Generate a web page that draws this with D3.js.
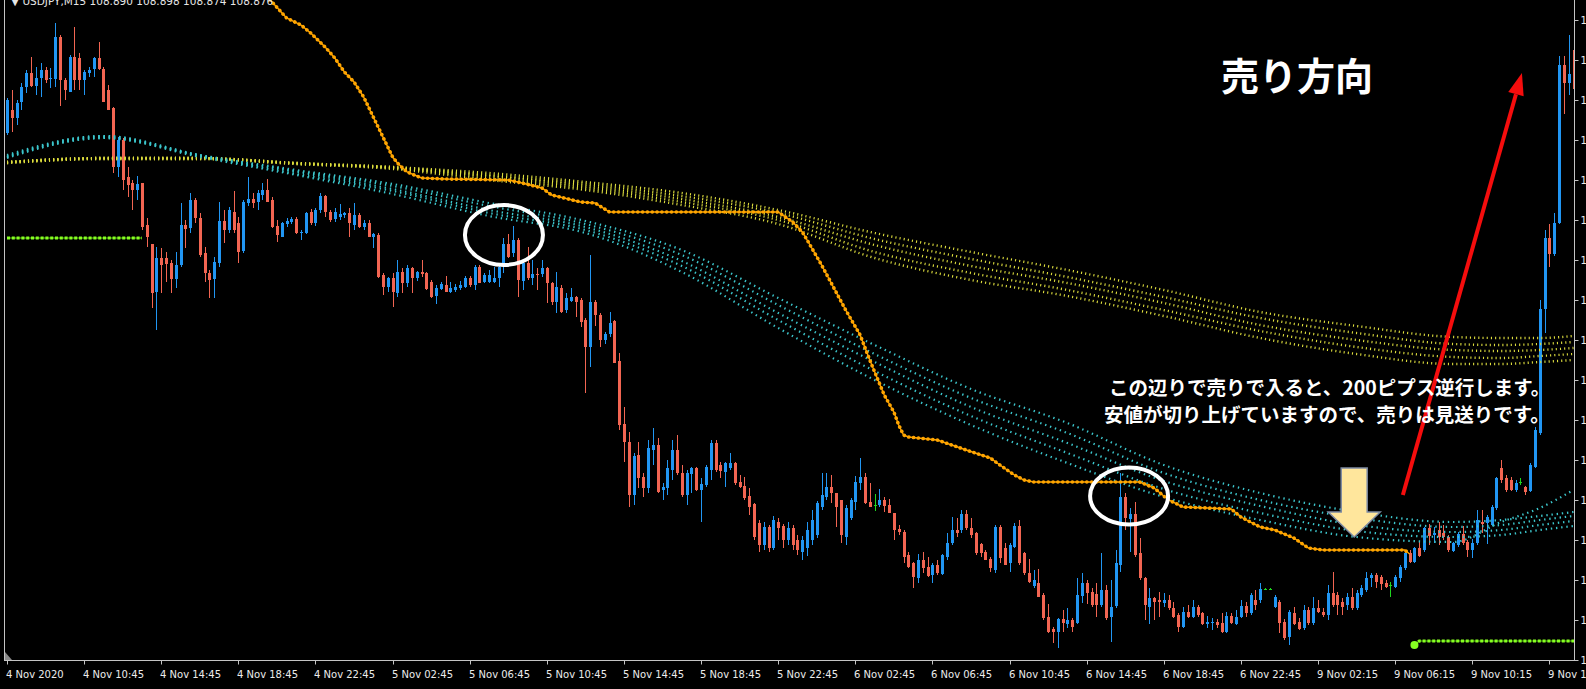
<!DOCTYPE html>
<html>
<head>
<meta charset="utf-8">
<script src="https://cdn.jsdelivr.net/npm/d3@7"></script>
<style>
  html, body { margin: 0; padding: 0; background: #000; overflow: hidden; }
</style>
</head>
<body>
<script>
// time labels, one every 16 bars (M15)
const timeLabels = ['4 Nov 2020', '4 Nov 10:45', '4 Nov 14:45', '4 Nov 18:45', '4 Nov 22:45',
  '5 Nov 02:45', '5 Nov 06:45', '5 Nov 10:45', '5 Nov 14:45', '5 Nov 18:45', '5 Nov 22:45',
  '6 Nov 02:45', '6 Nov 06:45', '6 Nov 10:45', '6 Nov 14:45', '6 Nov 18:45', '6 Nov 22:45',
  '9 Nov 02:15', '9 Nov 06:15', '9 Nov 10:15', '9 Nov 14:15']

const priceTicks = [103.0, 103.2, 103.4, 103.6, 103.8, 104.0, 104.2, 104.4, 104.6, 104.8,
  105.0, 105.2, 105.4, 105.6, 105.8, 106.0, 106.2]

// OHLC, one entry per 15 minute bar
const open = [105.635,105.75,105.71,105.79,105.865,105.935,105.87,105.91,105.95,105.905,
105.905,106.115,105.9,105.84,106.015,106.01,105.9,105.935,105.955,106.01,
105.955,105.85,105.76,105.465,105.6,105.415,105.385,105.35,105.385,105.175,
105.08,104.84,105.01,105.01,104.985,104.905,104.975,105.175,105.16,105.3,
105.21,105.035,104.935,104.905,104.985,105.195,105.15,105.24,105.185,105.045,
105.285,105.305,105.29,105.325,105.35,105.3,105.17,105.115,105.18,105.19,
105.205,105.135,105.135,105.24,105.185,105.25,105.32,105.24,105.205,105.215,
105.225,105.235,105.175,105.225,105.165,105.185,105.115,105.125,104.925,104.865,
104.91,104.835,104.94,104.885,104.96,104.91,104.94,104.935,104.89,104.82,
104.855,104.875,104.84,104.85,104.86,104.865,104.91,104.875,104.965,104.89,
104.89,104.89,104.91,104.975,105.08,105.035,105.1,104.895,104.985,104.91,
104.93,104.93,104.96,104.885,104.79,104.86,104.75,104.795,104.815,104.8,
104.7,104.565,104.79,104.725,104.6,104.63,104.695,104.495,104.18,104.09,
103.825,104.025,103.915,103.86,104.05,104.075,103.85,103.86,103.95,104.05,
103.935,103.825,103.93,103.96,103.85,103.875,103.95,104.085,103.975,103.94,
103.96,103.985,103.89,103.87,103.82,103.78,103.685,103.575,103.665,103.56,
103.69,103.67,103.6,103.66,103.6,103.54,103.56,103.6,103.625,103.765,
103.815,103.865,103.835,103.8,103.615,103.71,103.79,103.885,103.915,103.79,
103.775,103.775,103.8,103.775,103.735,103.655,103.64,103.525,103.485,103.41,
103.5,103.465,103.425,103.475,103.43,103.515,103.585,103.65,103.65,103.73,
103.66,103.635,103.58,103.54,103.505,103.45,103.665,103.56,103.485,103.565,
103.67,103.535,103.435,103.37,103.385,103.325,103.215,103.155,103.14,103.205,
103.18,103.2,103.185,103.32,103.385,103.34,103.33,103.275,103.35,103.215,
103.27,103.475,103.815,103.705,103.73,103.535,103.41,103.265,103.31,103.3,
103.285,103.3,103.26,103.225,103.165,103.24,103.215,103.265,103.235,103.18,
103.185,103.19,103.185,103.14,103.22,103.18,103.215,103.27,103.235,103.3,
103.3,103.355,103.355,103.265,103.29,103.19,103.115,103.235,103.19,103.16,
103.25,103.185,103.26,103.24,103.225,103.335,103.325,103.29,103.275,103.315,
103.26,103.325,103.35,103.41,103.425,103.415,103.385,103.375,103.365,103.41,
103.46,103.535,103.49,103.56,103.55,103.66,103.625,103.65,103.635,103.615,
103.545,103.575,103.63,103.59,103.55,103.585,103.69,103.685,103.675,103.76,
103.96,103.91,103.9,103.85,103.89,103.865,103.845,103.965,104.135,104.755,
105.11,105.03,105.185,105.975,105.885,106.05]

const high = [105.81,105.85,105.8,105.885,105.95,106.015,105.965,105.985,105.965,105.96,
106.185,106.125,105.91,106.025,106.165,106.035,105.95,105.965,106.015,106.09,
105.965,105.875,105.765,105.615,105.61,105.465,105.4,105.42,105.385,105.21,
105.08,105.065,105.06,105.04,105.0,105.04,105.285,105.2,105.335,105.31,
105.235,105.065,104.95,105.015,105.29,105.25,105.265,105.345,105.215,105.3,
105.415,105.335,105.35,105.385,105.405,105.315,105.2,105.19,105.21,105.215,
105.215,105.15,105.24,105.255,105.26,105.335,105.325,105.25,105.26,105.28,
105.24,105.26,105.285,105.235,105.2,105.2,105.135,105.135,104.935,104.915,
104.935,105.0,104.96,104.975,104.965,104.945,105.0,104.94,104.9,104.875,
104.89,104.92,104.89,104.88,104.895,104.92,104.92,104.975,104.975,104.935,
104.95,104.965,104.985,105.11,105.13,105.17,105.11,105.0,105.065,105.0,
104.96,105.0,104.965,104.89,104.94,104.875,104.835,104.86,104.82,104.81,
104.71,105.025,104.8,104.735,104.64,104.74,104.7,104.535,104.265,104.14,
104.035,104.09,103.935,104.1,104.16,104.11,103.885,104.0,104.1,104.125,
103.975,103.95,103.965,103.965,103.91,103.975,104.1,104.1,103.99,103.99,
104.035,103.99,103.925,103.915,103.86,103.785,103.7,103.69,103.675,103.72,
103.71,103.68,103.69,103.675,103.625,103.62,103.69,103.75,103.795,103.935,
103.935,103.925,103.835,103.8,103.775,103.81,103.92,104.01,103.935,103.885,
103.83,103.855,103.815,103.805,103.735,103.675,103.65,103.54,103.49,103.53,
103.54,103.515,103.485,103.5,103.53,103.635,103.715,103.71,103.75,103.75,
103.71,103.64,103.585,103.55,103.515,103.675,103.675,103.585,103.585,103.685,
103.7,103.54,103.505,103.45,103.455,103.335,103.28,103.165,103.21,103.25,
103.26,103.21,103.41,103.435,103.4,103.36,103.385,103.535,103.375,103.4,
103.55,103.935,103.835,103.76,103.79,103.61,103.415,103.36,103.315,103.34,
103.335,103.325,103.29,103.235,103.265,103.275,103.3,103.275,103.24,103.22,
103.21,103.205,103.235,103.24,103.235,103.25,103.3,103.29,103.335,103.35,
103.385,103.36,103.36,103.325,103.3,103.205,103.25,103.265,103.21,103.275,
103.265,103.315,103.3,103.26,103.375,103.44,103.34,103.31,103.335,103.36,
103.35,103.375,103.44,103.435,103.435,103.425,103.4,103.39,103.425,103.475,
103.54,103.55,103.565,103.59,103.665,103.68,103.665,103.69,103.675,103.625,
103.59,103.64,103.67,103.6,103.605,103.75,103.75,103.725,103.775,103.915,
104.0,103.925,103.915,103.9,103.91,103.87,103.985,104.165,104.8,105.15,
105.18,105.235,106.02,106.02,106.125,106.075]

const low = [105.625,105.64,105.675,105.75,105.835,105.865,105.825,105.815,105.885,105.86,
105.865,105.77,105.8,105.84,105.85,105.85,105.825,105.915,105.915,105.95,
105.79,105.75,105.435,105.415,105.35,105.315,105.25,105.3,105.15,105.065,
104.76,104.65,104.835,104.89,104.835,104.86,104.965,105.06,105.135,105.185,
105.015,104.89,104.81,104.81,104.965,105.085,105.135,105.135,104.985,105.035,
105.27,105.26,105.25,105.3,105.29,105.16,105.09,105.115,105.165,105.18,
105.13,105.1,105.13,105.175,105.17,105.235,105.215,105.19,105.19,105.2,
105.21,105.115,105.15,105.16,105.15,105.115,105.06,104.91,104.825,104.84,
104.765,104.815,104.835,104.865,104.835,104.895,104.915,104.85,104.81,104.78,
104.85,104.84,104.835,104.84,104.85,104.86,104.865,104.85,104.885,104.885,
104.885,104.885,104.865,104.935,105.01,105.015,104.815,104.85,104.9,104.875,
104.85,104.915,104.785,104.775,104.735,104.735,104.735,104.79,104.715,104.665,
104.335,104.465,104.67,104.565,104.58,104.615,104.485,104.15,103.99,103.765,
103.775,103.86,103.815,103.835,103.975,103.835,103.8,103.825,103.9,103.925,
103.815,103.775,103.835,103.845,103.69,103.865,103.9,103.94,103.91,103.865,
103.95,103.875,103.86,103.8,103.725,103.6,103.54,103.55,103.54,103.55,
103.6,103.56,103.575,103.55,103.525,103.5,103.52,103.575,103.61,103.75,
103.8,103.785,103.665,103.585,103.575,103.7,103.75,103.85,103.78,103.765,
103.745,103.765,103.74,103.735,103.6,103.625,103.485,103.46,103.36,103.385,
103.435,103.415,103.385,103.425,103.425,103.5,103.575,103.615,103.635,103.65,
103.61,103.525,103.515,103.5,103.44,103.435,103.485,103.475,103.44,103.56,
103.475,103.425,103.385,103.36,103.315,103.2,103.135,103.085,103.06,103.14,
103.16,103.14,103.18,103.285,103.28,103.265,103.215,103.265,103.2,103.09,
103.26,103.44,103.65,103.54,103.515,103.4,103.2,103.18,103.2,103.215,
103.265,103.25,103.21,103.14,103.16,103.21,103.21,103.215,103.175,103.16,
103.15,103.16,103.135,103.135,103.18,103.175,103.21,103.215,103.225,103.25,
103.285,103.35,103.35,103.26,103.135,103.1,103.075,103.175,103.15,103.15,
103.175,103.175,103.235,103.215,103.2,103.265,103.225,103.225,103.25,103.25,
103.25,103.315,103.34,103.365,103.36,103.35,103.36,103.315,103.36,103.39,
103.45,103.485,103.485,103.515,103.54,103.575,103.585,103.575,103.6,103.54,
103.54,103.565,103.575,103.515,103.51,103.575,103.635,103.58,103.67,103.75,
103.885,103.84,103.845,103.84,103.875,103.825,103.84,103.96,104.125,104.635,
104.965,105.02,105.18,105.73,105.825,105.825]

const close = [105.8,105.71,105.785,105.865,105.935,105.87,105.91,105.95,105.9,105.91,
106.115,105.9,105.85,106.015,105.9,105.9,105.94,105.95,106.01,105.955,
105.79,105.75,105.465,105.6,105.4,105.375,105.35,105.38,105.165,105.115,
104.835,105.01,104.975,104.98,104.905,104.975,105.175,105.155,105.3,105.21,
105.025,104.935,104.9,104.99,105.195,105.15,105.25,105.15,105.04,105.29,
105.305,105.285,105.335,105.35,105.29,105.165,105.125,105.185,105.195,105.205,
105.135,105.14,105.235,105.185,105.25,105.32,105.24,105.2,105.24,105.23,
105.235,105.185,105.225,105.165,105.185,105.115,105.13,104.915,104.865,104.91,
104.84,104.94,104.885,104.96,104.91,104.94,104.93,104.855,104.815,104.86,
104.88,104.84,104.86,104.865,104.875,104.91,104.875,104.965,104.885,104.925,
104.925,104.91,104.965,105.08,105.015,105.1,104.9,104.985,104.91,104.93,
104.925,104.96,104.885,104.79,104.865,104.74,104.81,104.815,104.79,104.69,
104.565,104.79,104.725,104.6,104.63,104.685,104.485,104.175,104.09,103.825,
104.02,103.91,103.86,104.06,104.075,103.84,103.865,103.96,104.05,103.935,
103.825,103.935,103.96,103.85,103.88,103.965,104.085,103.95,103.945,103.985,
103.985,103.885,103.865,103.81,103.765,103.615,103.575,103.665,103.56,103.7,
103.66,103.6,103.66,103.575,103.55,103.6,103.65,103.7,103.785,103.825,
103.865,103.835,103.765,103.625,103.76,103.8,103.89,103.915,103.785,103.765,
103.775,103.8,103.77,103.735,103.65,103.64,103.515,103.465,103.415,103.5,
103.46,103.42,103.475,103.435,103.525,103.585,103.65,103.635,103.73,103.66,
103.625,103.535,103.535,103.5,103.46,103.665,103.51,103.475,103.575,103.67,
103.485,103.435,103.39,103.4,103.315,103.21,103.14,103.14,103.205,103.185,
103.2,103.165,103.325,103.385,103.335,103.275,103.275,103.35,103.21,103.265,
103.485,103.815,103.71,103.73,103.525,103.41,103.275,103.31,103.29,103.29,
103.3,103.26,103.215,103.165,103.24,103.215,103.265,103.225,103.18,103.19,
103.19,103.175,103.14,103.22,103.185,103.215,103.27,103.235,103.325,103.275,
103.355,103.355,103.355,103.315,103.185,103.11,103.24,103.18,103.155,103.25,
103.185,103.26,103.24,103.225,103.335,103.275,103.275,103.265,103.315,103.26,
103.335,103.36,103.41,103.425,103.39,103.38,103.365,103.375,103.415,103.465,
103.535,103.49,103.56,103.52,103.66,103.62,103.635,103.615,103.615,103.55,
103.585,103.63,103.585,103.55,103.585,103.7,103.68,103.715,103.765,103.91,
103.9,103.85,103.85,103.885,103.89,103.84,103.975,104.15,104.755,105.11,
105.03,105.185,105.975,105.885,105.93,105.855]

// moving average ribbons, values read at these bars
const maBars = [0, 20, 40, 60, 80, 100, 120, 140, 160, 180, 200, 220, 240, 260, 280, 300, 310, 318, 325]

const cyan1 = [105.525,105.62,105.525,105.45,105.38,105.285,105.195,105.05,104.81,104.575,104.355,104.185,103.975,103.835,103.74,103.69,103.7,103.72,103.74]
const cyan2 = [105.52,105.62,105.525,105.445,105.37,105.27,105.18,105.025,104.775,104.53,104.31,104.135,103.935,103.8,103.71,103.665,103.675,103.7,103.72]
const cyan3 = [105.515,105.615,105.52,105.44,105.355,105.25,105.165,104.995,104.735,104.49,104.265,104.085,103.895,103.77,103.675,103.64,103.65,103.675,103.695]
const cyan4 = [105.515,105.61,105.52,105.43,105.345,105.235,105.15,104.97,104.7,104.445,104.22,104.035,103.855,103.735,103.645,103.615,103.625,103.65,103.67]
const cyan5 = [105.51,105.61,105.515,105.425,105.33,105.22,105.135,104.94,104.66,104.4,104.175,103.985,103.815,103.7,103.615,103.59,103.69,103.76,103.85]

const yellow1 = [105.49,105.51,105.51,105.485,105.465,105.435,105.39,105.335,105.25,105.135,105.04,104.95,104.85,104.74,104.67,104.615,104.61,104.61,104.62]
const yellow2 = [105.49,105.51,105.51,105.485,105.465,105.425,105.38,105.32,105.235,105.105,105.005,104.915,104.815,104.71,104.635,104.58,104.575,104.58,104.59]
const yellow3 = [105.49,105.51,105.51,105.485,105.46,105.42,105.37,105.305,105.215,105.075,104.97,104.885,104.785,104.675,104.6,104.55,104.545,104.55,104.56]
const yellow4 = [105.485,105.505,105.505,105.48,105.46,105.41,105.36,105.29,105.2,105.04,104.935,104.85,104.75,104.645,104.565,104.515,104.51,104.52,104.53]
const yellow5 = [105.485,105.505,105.505,105.48,105.455,105.4,105.35,105.275,105.18,105.01,104.9,104.82,104.72,104.61,104.53,104.48,104.48,104.49,104.5]

// orange step line
const orangeBars = [52,55,58,61,63,66,68,70,72,74,76,78,80,81,83,86,91,104,106,111,113,119,122,125,
  160,163,165,166,169,171,174,177,179,182,184,185,186,187,193,196,199,204,206,209,211,213,
  235,238,241,244,254,256,260,263,267,270,273,290,291]
const orangeVals = [106.375,106.29,106.21,106.175,106.135,106.065,106.01,105.94,105.89,105.815,105.715,105.615,105.515,105.485,105.44,105.41,105.405,105.4,105.39,105.36,105.325,105.29,105.285,105.24,
  105.24,105.19,105.14,105.1,104.975,104.885,104.75,104.625,104.5,104.325,104.24,104.175,104.125,104.115,104.1,104.075,104.05,104.01,103.975,103.925,103.9,103.89,
  103.89,103.86,103.8,103.765,103.755,103.715,103.665,103.65,103.61,103.56,103.55,103.55,103.53]

// green level lines
const greenLeftBars = [0, 28]
const greenLeftVals = [105.11, 105.11]
const greenRightBars = [292, 293, 327]
const greenRightVals = [103.075, 103.095, 103.095]

const W = 1586, H = 689

let svg = d3.select('body').append('svg')
    .attr('width', W)
    .attr('height', H)
    .style('display', 'block')
    .style('background', '#000')

let xScale = d3.scaleLinear()
    .domain([0, 320])
    .range([7, 1549.4])

let yScale = d3.scaleLinear()
    .domain([103.0, 106.2])
    .range([660, 20])

svg.append('clipPath').attr('id', 'plot')
  .append('rect').attr('x', 5).attr('y', 0).attr('width', 1569).attr('height', 659.5)

let plot = svg.append('g').attr('clip-path', 'url(#plot)')

/******************************************
 * CANDLES
 ******************************************/
let bars = open.map(function(o, i) {
    return { i: i, o: o, h: high[i], l: low[i], c: close[i] }
})
function candleColor(d) {
    if (d.c > d.o) return '#2196f3'
    if (d.c < d.o) return '#f26552'
    return '#1fd51f'
}

plot.selectAll('line.wick')
    .data(bars)
  .enter().append('line')
    .attr('class', 'wick')
    .attr('x1', d => Math.round(xScale(d.i)) + 0.5)
    .attr('x2', d => Math.round(xScale(d.i)) + 0.5)
    .attr('y1', d => yScale(d.h))
    .attr('y2', d => yScale(d.l))
    .attr('stroke', candleColor)
    .attr('stroke-width', 1)

plot.selectAll('rect.body')
    .data(bars)
  .enter().append('rect')
    .attr('class', 'body')
    .attr('x', d => Math.round(xScale(d.i)) - 1)
    .attr('width', 3)
    .attr('y', d => yScale(Math.max(d.o, d.c)))
    .attr('height', d => Math.max(1, yScale(Math.min(d.o, d.c)) - yScale(Math.max(d.o, d.c))))
    .attr('fill', candleColor)

/******************************************
 * INDICATORS
 ******************************************/
let smooth = d3.line()
    .x(d => xScale(d[0]))
    .y(d => yScale(d[1]))
    .curve(d3.curveMonotoneX)

let straight = d3.line()
    .x(d => xScale(d[0]))
    .y(d => yScale(d[1]))

let pairs = (xs, vs) => xs.map((b, k) => [b, vs[k]])

;[yellow1, yellow2, yellow3, yellow4, yellow5].forEach(function(s) {
    plot.append('path')
        .datum(pairs(maBars, s))
        .attr('d', smooth)
        .attr('fill', 'none')
        .attr('stroke', '#dede3e')
        .attr('stroke-width', 2.4)
        .attr('stroke-dasharray', '1.1,3.1')
})

;[cyan1, cyan2, cyan3, cyan4, cyan5].forEach(function(s) {
    plot.append('path')
        .datum(pairs(maBars, s))
        .attr('d', smooth)
        .attr('fill', 'none')
        .attr('stroke', '#3cc6cc')
        .attr('stroke-width', 2.2)
        .attr('stroke-dasharray', '1.4,3.8')
})

// orange line with beads
let orangeData = pairs(orangeBars, orangeVals)
plot.append('path')
    .datum(orangeData)
    .attr('d', straight)
    .attr('fill', 'none')
    .attr('stroke', '#ffa500')
    .attr('stroke-width', 1.4)
plot.append('path')
    .datum(orangeData)
    .attr('d', straight)
    .attr('fill', 'none')
    .attr('stroke', '#ffa500')
    .attr('stroke-width', 3.6)
    .attr('stroke-linecap', 'round')
    .attr('stroke-dasharray', '0.1,4.72')

// green lines
;[pairs(greenLeftBars, greenLeftVals), pairs(greenRightBars, greenRightVals)].forEach(function(g) {
    plot.append('path')
        .datum(g)
        .attr('d', straight)
        .attr('fill', 'none')
        .attr('stroke', '#5fcf10')
        .attr('stroke-width', 1.2)
    plot.append('path')
        .datum(g)
        .attr('d', straight)
        .attr('fill', 'none')
        .attr('stroke', '#86ff22')
        .attr('stroke-width', 3)
        .attr('stroke-dasharray', '3,1.8')
})
plot.append('circle')
    .attr('cx', xScale(greenRightBars[0]))
    .attr('cy', yScale(greenRightVals[0]))
    .attr('r', 4)
    .attr('fill', '#86ff22')

/******************************************
 * AXES
 ******************************************/
let axisColor = '#c4c4c4'

let xAxis = d3.axisBottom(xScale)
    .tickValues(timeLabels.map((t, k) => k * 16))
    .tickFormat((d, k) => timeLabels[k])
    .tickSize(4)
    .tickSizeOuter(0)

let gx = svg.append('g')
    .attr('transform', 'translate(0,660.5)')
    .call(xAxis)
gx.select('.domain').remove()
gx.selectAll('.tick').attr('transform', d => 'translate(' + (Math.round(xScale(d)) + 0.5) + ',0)')
gx.selectAll('.tick line').attr('stroke', axisColor)
gx.selectAll('.tick text')
    .attr('text-anchor', 'start')
    .attr('x', -1.5)
    .attr('y', 10)
    .attr('fill', '#ececec')
    .style('font-family', 'DejaVu Sans, sans-serif')
    .style('font-size', '10px')

let yAxis = d3.axisRight(yScale)
    .tickValues(priceTicks)
    .tickFormat(d3.format('.3f'))
    .tickSize(4)
    .tickSizeOuter(0)

let gy = svg.append('g')
    .attr('transform', 'translate(1574.5,0)')
    .call(yAxis)
gy.select('.domain').remove()
gy.selectAll('.tick line').attr('stroke', axisColor)
gy.selectAll('.tick text')
    .attr('x', 6)
    .attr('fill', '#ececec')
    .style('font-family', 'DejaVu Sans, sans-serif')
    .style('font-size', '10px')

// frame lines
svg.append('line').attr('x1', 4).attr('x2', 1575).attr('y1', 660.5).attr('y2', 660.5).attr('stroke', axisColor)
svg.append('line').attr('x1', 1574.5).attr('x2', 1574.5).attr('y1', 0).attr('y2', 661).attr('stroke', axisColor)
svg.append('line').attr('x1', 4.5).attr('x2', 4.5).attr('y1', 0).attr('y2', 661).attr('stroke', axisColor)
svg.append('path').attr('d', 'M5,652 L5,660 L12,660 Z').attr('fill', '#8a8a8a')

// chart title, cut at the top edge
svg.append('text')
    .attr('x', 11)
    .attr('y', 5)
    .attr('fill', '#e6e6e6')
    .style('font-family', 'DejaVu Sans, sans-serif')
    .style('font-size', '10.5px')
    .text('\u25BC USDJPY,M15  108.890 108.898 108.874 108.876')

/******************************************
 * ANNOTATIONS
 ******************************************/
let ann = svg.append('g')

ann.append('ellipse')
    .attr('cx', xScale(103.1)).attr('cy', yScale(105.125))
    .attr('rx', 39).attr('ry', 30)
    .attr('fill', 'none').attr('stroke', '#fff').attr('stroke-width', 4)

ann.append('ellipse')
    .attr('cx', xScale(232.8)).attr('cy', yScale(103.82))
    .attr('rx', 39).attr('ry', 28.5)
    .attr('fill', 'none').attr('stroke', '#fff').attr('stroke-width', 4)

// yellow down arrow
let ax = xScale(279.5), aTop = yScale(103.96), aBase = yScale(103.74), aTip = yScale(103.615)
ann.append('path')
    .attr('d', 'M' + (ax - 13) + ',' + aTop + ' L' + (ax + 13) + ',' + aTop +
        ' L' + (ax + 13) + ',' + aBase + ' L' + (ax + 26) + ',' + aBase +
        ' L' + ax + ',' + aTip + ' L' + (ax - 26) + ',' + aBase +
        ' L' + (ax - 13) + ',' + aBase + ' Z')
    .attr('fill', '#ffe69c')
    .attr('stroke', '#7d8aa3')
    .attr('stroke-width', 1.5)

// red up arrow
let r0 = [xScale(289.6), yScale(103.825)], r1 = [xScale(314.3), yScale(105.935)]
let ang = Math.atan2(r1[1] - r0[1], r1[0] - r0[0])
let headLen = 22, headW = 8
let hb = [r1[0] - headLen * Math.cos(ang), r1[1] - headLen * Math.sin(ang)]
ann.append('line')
    .attr('x1', r0[0]).attr('y1', r0[1]).attr('x2', hb[0]).attr('y2', hb[1])
    .attr('stroke', '#f50d0d').attr('stroke-width', 4)
ann.append('path')
    .attr('d', 'M' + r1[0] + ',' + r1[1] +
        ' L' + (hb[0] + headW * Math.sin(ang)) + ',' + (hb[1] - headW * Math.cos(ang)) +
        ' L' + (hb[0] - headW * Math.sin(ang)) + ',' + (hb[1] + headW * Math.cos(ang)) + ' Z')
    .attr('fill', '#f50d0d')

let jp = 'Noto Sans CJK JP, sans-serif'
ann.append('text')
    .attr('x', 1221).attr('y', 90)
    .attr('fill', '#fff')
    .style('font-family', jp).style('font-weight', 'bold').style('font-size', '38px')
    .text('売り方向')

ann.append('text')
    .attr('x', 1109).attr('y', 395)
    .attr('fill', '#fff')
    .style('font-family', jp).style('font-weight', 'bold').style('font-size', '19.5px')
    .text('この辺りで売りで入ると、200ピプス逆行します。')

ann.append('text')
    .attr('x', 1104).attr('y', 422)
    .attr('fill', '#fff')
    .style('font-family', jp).style('font-weight', 'bold').style('font-size', '19.5px')
    .text('安値が切り上げていますので、売りは見送りです。')
</script>
</body>
</html>
